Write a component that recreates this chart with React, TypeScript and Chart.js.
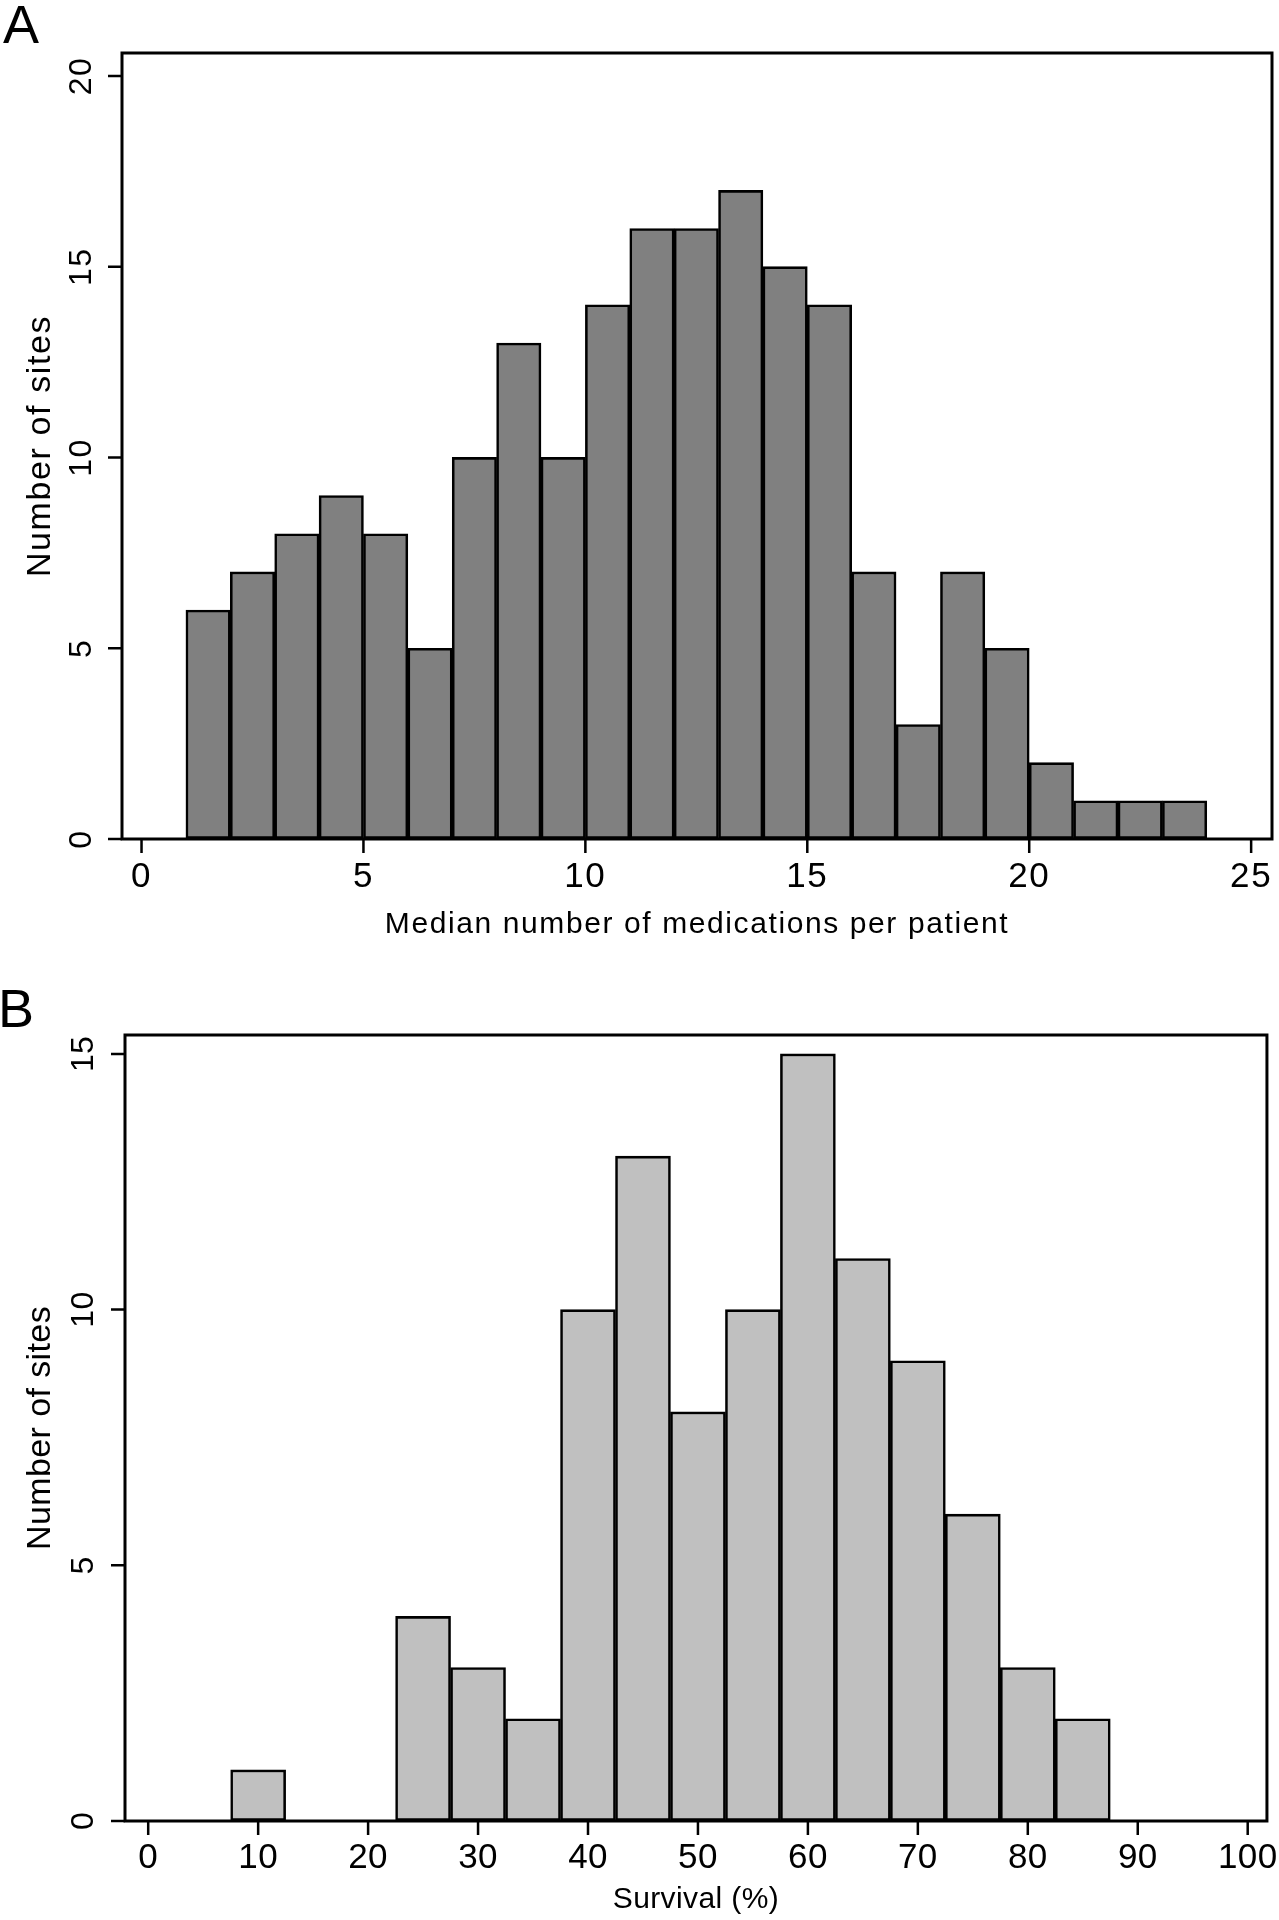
import React, { useEffect, useRef } from "react";
import { Chart, registerables } from "chart.js";

Chart.register(...registerables);

// Panel A: median number of medications per patient (bin centres, width 1)
const medCenters = [1.5, 2.5, 3.5, 4.5, 5.5, 6.5, 7.5, 8.5, 9.5, 10.5, 11.5, 12.5, 13.5, 14.5, 15.5, 16.5, 17.5, 18.5, 19.5, 20.5, 21.5, 22.5, 23.5];
const medCounts = [6, 7, 8, 9, 8, 5, 10, 13, 10, 14, 16, 16, 17, 15, 14, 7, 3, 7, 5, 2, 1, 1, 1];
const medXTicks = [0, 5, 10, 15, 20, 25];
const medYTicks = [0, 5, 10, 15, 20];

// Panel B: survival (%) (bin centres, width 5)
const survCenters = [10, 25, 30, 35, 40, 45, 50, 55, 60, 65, 70, 75, 80, 85];
const survCounts = [1, 4, 3, 2, 10, 13, 8, 10, 15, 11, 9, 6, 3, 2];
const survXTicks = [0, 10, 20, 30, 40, 50, 60, 70, 80, 90, 100];
const survYTicks = [0, 5, 10, 15];

const FONT = "'Liberation Sans', Arial, sans-serif";
const TICK_LEN = 14;

const makeFramePlugin = (spacing: string) => ({
  id: "frame",
  beforeDraw(chart: any) {
    (chart.ctx as any).letterSpacing = spacing;
  },
  afterDatasetsDraw(chart: any) {
    const { ctx, chartArea: a, scales } = chart;
    ctx.save();
    ctx.strokeStyle = "#000";
    ctx.lineCap = "butt";
    // tick marks, placed by the library's scales
    ctx.lineWidth = 2.5;
    ctx.beginPath();
    for (const t of scales.x.ticks) {
      const px = scales.x.getPixelForValue(t.value);
      ctx.moveTo(px, a.bottom);
      ctx.lineTo(px, a.bottom + TICK_LEN);
    }
    for (const t of scales.y.ticks) {
      const py = scales.y.getPixelForValue(t.value);
      ctx.moveTo(a.left, py);
      ctx.lineTo(a.left - TICK_LEN, py);
    }
    ctx.stroke();
    // plot frame
    ctx.lineWidth = 3;
    ctx.strokeRect(a.left, a.top, a.right - a.left, a.bottom - a.top);
    ctx.restore();
  },
});

type PanelProps = {
  centers: number[];
  counts: number[];
  xTicks: number[];
  yTicks: number[];
  fill: string;
  xMin: number;
  xMax: number;
  yMax: number;
  xTitle: string;
  padTop: number;
  padRight: number;
  yWidth: number;
  xHeight: number;
  xTickPad: number;
  yTickPad: number;
  xTitlePad: number;
  spacing: string;
  top: number;
};

function Panel(p: PanelProps) {
  const ref = useRef<HTMLCanvasElement | null>(null);
  useEffect(() => {
    if (!ref.current) return;
    const hiddenGrid = {
      display: true,
      drawOnChartArea: false,
      drawTicks: true,
      tickLength: TICK_LEN,
      tickColor: "rgba(0,0,0,0)",
      color: "rgba(0,0,0,0)",
      offset: false,
    };
    const chart = new Chart(ref.current, {
      type: "bar",
      data: {
        datasets: [
          {
            data: p.centers.map((c, i) => ({ x: c, y: p.counts[i] })),
            backgroundColor: p.fill,
            borderColor: "#000",
            borderWidth: 2.6,
            borderSkipped: false,
            barPercentage: 1,
            categoryPercentage: 1,
          } as any,
        ],
      },
      options: {
        animation: false,
        responsive: false,
        layout: { padding: { top: p.padTop, right: p.padRight, left: 0, bottom: 0 } },
        plugins: { legend: { display: false }, tooltip: { enabled: false } },
        scales: {
          x: {
            type: "linear",
            min: p.xMin,
            max: p.xMax,
            offset: false,
            afterBuildTicks: (s: any) => {
              s.ticks = p.xTicks.map((v) => ({ value: v }));
            },
            afterFit: (s: any) => {
              s.height = p.xHeight;
            },
            border: { display: false },
            grid: hiddenGrid,
            ticks: {
              autoSkip: false,
              maxRotation: 0,
              minRotation: 0,
              padding: p.xTickPad,
              color: "#000",
              font: { family: FONT, size: 35 },
            },
            title: {
              display: true,
              text: p.xTitle,
              color: "#000",
              font: { family: FONT, size: 30 },
              padding: { top: 0, bottom: p.xTitlePad },
            },
          },
          y: {
            type: "linear",
            min: 0,
            max: p.yMax,
            afterBuildTicks: (s: any) => {
              s.ticks = p.yTicks.map((v) => ({ value: v }));
            },
            afterFit: (s: any) => {
              s.width = p.yWidth;
            },
            border: { display: false },
            grid: hiddenGrid,
            ticks: {
              autoSkip: false,
              minRotation: 90,
              maxRotation: 90,
              crossAlign: "center",
              padding: p.yTickPad,
              color: "#000",
              font: { family: FONT, size: 32 },
            },
            title: {
              display: true,
              text: "Number of sites",
              color: "#000",
              font: { family: FONT, size: 34 },
              padding: { top: 20, bottom: 0 },
            },
          },
        },
      } as any,
      plugins: [makeFramePlugin(p.spacing)],
    });
    return () => chart.destroy();
  }, []);
  return (
    <canvas
      ref={ref}
      width={1279}
      height={960}
      style={{ position: "absolute", left: 0, top: p.top, width: 1279, height: 960, display: "block" }}
    />
  );
}

export default function App() {
  const letter: React.CSSProperties = {
    position: "absolute",
    fontFamily: FONT,
    fontSize: 54,
    lineHeight: "54px",
    color: "#000",
  };
  return (
    <div style={{ position: "absolute", left: 0, top: 0, width: 1279, height: 1920, background: "#fff" }}>
      <Panel
        centers={medCenters}
        counts={medCounts}
        xTicks={medXTicks}
        yTicks={medYTicks}
        fill="#808080"
        xMin={-0.44}
        xMax={25.47}
        yMax={20.6}
        xTitle="Median number of medications per patient"
        padTop={53}
        padRight={7}
        yWidth={122}
        xHeight={121}
        xTickPad={3}
        yTickPad={8}
        xTitlePad={17}
        spacing="1.6px"
        top={0}
      />
      <Panel
        centers={survCenters}
        counts={survCounts}
        xTicks={survXTicks}
        yTicks={survYTicks}
        fill="#c0c0c0"
        xMin={-2.11}
        xMax={101.75}
        yMax={15.37}
        xTitle="Survival (%)"
        padTop={75}
        padRight={6}
        yWidth={125}
        xHeight={99}
        xTickPad={2}
        yTickPad={9}
        xTitlePad={2}
        spacing="0.4px"
        top={960}
      />
      <div style={{ ...letter, left: 3, top: -3 }}>A</div>
      <div style={{ ...letter, left: -2, top: 981 }}>B</div>
    </div>
  );
}
